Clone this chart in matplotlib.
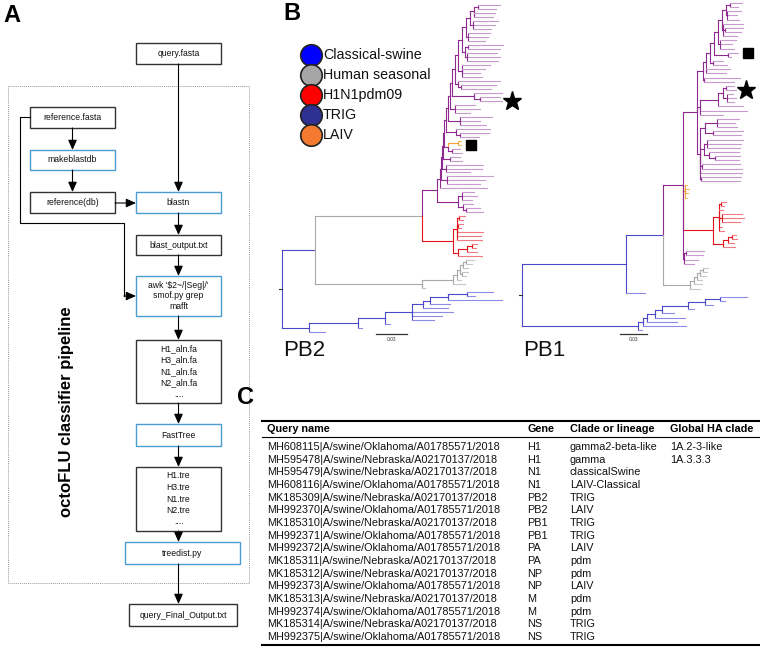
import matplotlib
matplotlib.use("Agg")
import matplotlib.pyplot as plt

plt.rcParams['font.family'] = ['Liberation Sans', 'DejaVu Sans']

# ---------------- data ----------------
legend_labels = ["Classical-swine", "Human seasonal", "H1N1pdm09", "TRIG", "LAIV"]
legend_colors = ["#0000FF", "#A6A6A6", "#FF0000", "#2E3192", "#F47A30"]

# trees: branch lengths in tree units (scale bar = 0.03 subs/site)
pb2_purple_top = "(:22,:18)"
pb2_purple_steps = [4, 4, 4, 4, 4, 3, 3, 2, 2, 2, 2, 1, 1, 1, 1]
pb2_purple_sides = ["(:21,:19)", "(:25,:22,:18):3", "(:22,:20,:17):2", "((:35,:32):3,(:30,:33,:31):2):3",
                    "(:28,:23,:18,:20):4", "(:42,(:35,:30):3):3", "(:28,(:20,star:22):6):22",
                    "(:20,:25,:15):5", "(:32,:20,:26):12", "(:34,(:29,:19):4):10",
                    "((:3,sq:3)o:10,(:8,:10):4):4", "(:10,:12):7", "(:37,:36,:24):4",
                    "(:46,:38,:33):6", ":47"]
pb2_small = "((:12,:15,:10):4,(:10,(:14,:17):3):5)"
pb2_red = "(((:6,:4):2,(:5,:3):1,:26,:24,:25):4,(((:5,:4):5,:10):9,:24):5)r:31"
pb2_gray = "(((((:8,:6):3,:5):3,(:6,:4):2):3,:4):4,:12)"
pb2_blue_top = "(:26,:8)"
pb2_blue_steps = [19, 18, 7, 11, 27, 27, 49]
pb2_blue_sides = [":54", ":20", ":25", ":41,:30,:22", ":5", ":4", ":16"]
pb2_scale = 31

pb1_purple_top = "(:12,:8)"
pb1_purple_steps = [4, 4, 4, 4, 4, 4, 3]
pb1_purple_sides = ["(:14,:10,:12):1", "(:20,(:18,:16):2,:14):1", "(:16,:12,:14):2", "(sq:10,:3):14",
                    "(:10,:14):3", "(:24,:20)", "(:36,:30):1"]
pb1_mid = "((((:8,star:10):3,(:6,:9,:7):4):5,:25):18,:47,:23)"
pb1_low = ("(((:22,:18,:20):12,(:30,:28):8):5,((:36,:34,:33):3,(:30,(:25,:24):6):5):4,"
           "(:38,:40):2,:42,(:40,:39):1)")
pb1_orange = "(:2,:4,:3,:2)o:2"
pb1_red = "(((:5,:3):2,:4,(:20,:22,:18):3,:3,:5):6,(((:4,:5):4,:6):5,:12):10)r:30"
pb1_small = "((:18,:17):2,:14,:10)p:1"
pb1_gray = "(((((:5,:4):3,:6):3,:5):3,:8):4,:10)g:27"
pb1_blue_top = "(:27,:5)"
pb1_blue_steps = [15, 17, 26, 7, 8, 4, 5]
pb1_blue_sides = [":8", ":6", ":12", ":30", ":30", ":43", ":4"]
pb1_scale = 27

query_names = ["MH608115|A/swine/Oklahoma/A01785571/2018", "MH595478|A/swine/Nebraska/A02170137/2018",
               "MH595479|A/swine/Nebraska/A02170137/2018", "MH608116|A/swine/Oklahoma/A01785571/2018",
               "MK185309|A/swine/Nebraska/A02170137/2018", "MH992370|A/swine/Oklahoma/A01785571/2018",
               "MK185310|A/swine/Nebraska/A02170137/2018", "MH992371|A/swine/Oklahoma/A01785571/2018",
               "MH992372|A/swine/Oklahoma/A01785571/2018", "MK185311|A/swine/Nebraska/A02170137/2018",
               "MK185312|A/swine/Nebraska/A02170137/2018", "MH992373|A/swine/Oklahoma/A01785571/2018",
               "MK185313|A/swine/Nebraska/A02170137/2018", "MH992374|A/swine/Oklahoma/A01785571/2018",
               "MK185314|A/swine/Nebraska/A02170137/2018", "MH992375|A/swine/Oklahoma/A01785571/2018"]
genes = ["H1", "H1", "N1", "N1", "PB2", "PB2", "PB1", "PB1", "PA", "PA", "NP", "NP", "M", "M", "NS", "NS"]
clades = ["gamma2-beta-like", "gamma", "classicalSwine", "LAIV-Classical", "TRIG", "LAIV", "TRIG", "TRIG",
          "LAIV", "pdm", "pdm", "LAIV", "pdm", "pdm", "TRIG", "TRIG"]
ha_clades = ["1A.2-3-like", "1A.3.3.3"] + [""] * 14
headers = ["Query name", "Gene", "Clade or lineage", "Global HA clade"]

INNER = {'b': '#4A4AC8', 'g': '#A8A8A8', 'r': '#E5141C', 'p': '#8E2A90', 'o': '#F2A33A'}
TIP = {'b': '#8C8CE6', 'g': '#C6C6C6', 'r': '#F07A80', 'p': '#C99ACF', 'o': '#F5B85E'}


def ladder(top, steps, sides):
    s = top
    for st, sd in zip(steps, sides):
        s = "(%s:%s,%s)" % (s, st, sd)
    return s


def parse(s):
    pos = [0]

    def node():
        kids = []
        if s[pos[0]] == '(':
            pos[0] += 1
            kids.append(node())
            while s[pos[0]] == ',':
                pos[0] += 1
                kids.append(node())
            pos[0] += 1
        st = pos[0]
        while pos[0] < len(s) and s[pos[0]] not in ':,()':
            pos[0] += 1
        lab = s[st:pos[0]]
        ln = 0.0
        if pos[0] < len(s) and s[pos[0]] == ':':
            pos[0] += 1
            st = pos[0]
            while pos[0] < len(s) and s[pos[0]] not in ',()':
                pos[0] += 1
            ln = float(s[st:pos[0]])
        return {'kids': kids, 'lab': lab, 'len': ln}
    return node()


def layout(nd, x0, col, leaves):
    nd['x'] = x0 + nd['len']
    if nd['lab'] in INNER:
        col = nd['lab']
    nd['c'] = col
    if nd['kids']:
        for k in nd['kids']:
            layout(k, nd['x'], col, leaves)
        nd['y'] = (nd['kids'][0]['y'] + nd['kids'][-1]['y']) / 2
    else:
        nd['y'] = len(leaves)
        leaves.append(nd)


def draw(ax, nd):
    for k in nd['kids']:
        ci = INNER[k['c']]
        ct = TIP[k['c']] if not k['kids'] else ci
        ax.plot([nd['x'], nd['x']], [nd['y'], k['y']], color=ci, lw=0.8, clip_on=False)
        ax.plot([nd['x'], k['x']], [k['y'], k['y']], color=ct, lw=0.8, clip_on=False)
        if k['lab'] == 'star':
            ax.plot(k['x'] + 10, k['y'], marker='*', ms=14, color='black', clip_on=False)
        if k['lab'] == 'sq':
            ax.plot(k['x'] + 10, k['y'], marker='s', ms=7.5, color='black', clip_on=False)
        draw(ax, k)


pb2_newick = "((((%s:3,%s:21)p:15,%s)g:107,(%s:31,:3)g:107)b:33,%sb:27)" % (
    ladder(pb2_purple_top, pb2_purple_steps, pb2_purple_sides), pb2_small, pb2_red,
    pb2_gray, ladder(pb2_blue_top, pb2_blue_steps, pb2_blue_sides))
pb1_newick = "(((((%s:6,%s:3,%s:3)p:14,%s,%s,%s)p:20,%s)b:37,:19)b:104,%sb:116)" % (
    ladder(pb1_purple_top, pb1_purple_steps, pb1_purple_sides), pb1_mid, pb1_low,
    pb1_orange, pb1_red, pb1_small, pb1_gray,
    ladder(pb1_blue_top, pb1_blue_steps, pb1_blue_sides))

W, H = 760, 647
fig = plt.figure(figsize=(7.6, 6.47), dpi=100)
ax = fig.add_axes([0, 0, 1, 1])
ax.set_xlim(0, W)
ax.set_ylim(H, 0)
ax.axis('off')

# ---------------- panel A: pipeline ----------------
BLUE_EDGE = '#4C9DD0'


def box(x0, x1, y0, y1, lines, blue=False, dy=11.5):
    ax.add_patch(plt.Rectangle((x0, y0), x1 - x0, y1 - y0, fill=False,
                               ec=BLUE_EDGE if blue else '#333333', lw=1.0))
    cy = (y0 + y1) / 2
    n = len(lines)
    for i, t in enumerate(lines):
        ax.text((x0 + x1) / 2, cy + (i - (n - 1) / 2) * dy, t, ha='center', va='center',
                fontsize=6.2, color='#111111')


def arrow(p0, p1):
    ax.annotate('', xy=p1, xytext=p0,
                arrowprops=dict(arrowstyle='-|>,head_length=0.5,head_width=0.22', color='black',
                                lw=0.8, shrinkA=0, shrinkB=0, mutation_scale=12))


ax.add_patch(plt.Rectangle((8, 86), 241, 497, fill=False, ec='#9A9A9A', lw=0.7, ls=(0, (1, 1))))
box(136, 221, 43, 64, ["query.fasta"])
box(30, 115, 107, 128, ["reference.fasta"])
box(30, 115, 150, 170, ["makeblastdb"], blue=True)
box(30, 115, 192, 213, ["reference(db)"])
box(136, 221, 192, 213, ["blastn"], blue=True)
box(136, 221, 235, 255, ["blast_output.txt"])
box(136, 221, 276, 316, ["awk '$2~/|Seg|/'", "smof.py grep", "mafft"], blue=True, dy=10.5)
box(136, 221, 340, 403, ["H1_aln.fa", "H3_aln.fa", "N1_aln.fa", "N2_aln.fa", "...."])
box(136, 221, 424, 446, ["FastTree"], blue=True)
box(136, 221, 467, 531, ["H1.tre", "H3.tre", "N1.tre", "N2.tre", "...."])
box(125, 240, 542, 564, ["treedist.py"], blue=True)
box(129, 237, 604, 626, ["query_Final_Output.txt"])

arrow((178.5, 64), (178.5, 192))
arrow((72.5, 128), (72.5, 150))
arrow((72.5, 170), (72.5, 192))
arrow((115, 203), (136, 203))
arrow((178.5, 213), (178.5, 235))
arrow((178.5, 255), (178.5, 276))
arrow((178.5, 316), (178.5, 340))
arrow((178.5, 403), (178.5, 424))
arrow((178.5, 446), (178.5, 467))
arrow((178.5, 531), (178.5, 542))
arrow((178.5, 564), (178.5, 604))
ax.plot([30, 20, 20, 124, 124], [117, 117, 223, 223, 296], color='black', lw=0.8)
arrow((124, 296), (136, 296))

ax.text(66, 412, "octoFLU classifier pipeline", rotation=90, ha='center', va='center',
        fontsize=12, fontweight='bold')

# panel letters
ax.text(12, 15, "A", ha='center', va='center', fontsize=17, fontweight='bold')
ax.text(292, 14, "B", ha='center', va='center', fontsize=17, fontweight='bold')
ax.text(246, 398, "C", ha='center', va='center', fontsize=17, fontweight='bold')

# ---------------- panel B: legend + trees ----------------
for i, (lab, col) in enumerate(zip(legend_labels, legend_colors)):
    y = 55 + 20 * i
    ax.scatter(311, y, s=240, color=col, edgecolors='#222222', linewidths=1.2, zorder=3)
    ax.text(323, y, lab, ha='left', va='center', fontsize=10.3, color='#111111')


def tree_panel(newick, root_px, top_px, bot_px, scale, bar_x, bar_frac, name):
    root = parse(newick)
    leaves = []
    layout(root, 0.0, 'b', leaves)
    t = fig.add_axes([root_px / W, 1 - bot_px / H, 230 / W, (bot_px - top_px) / H])
    t.set_xlim(0, 230)
    t.set_ylim(len(leaves) - 1, 0)
    t.axis('off')
    draw(t, root)
    t.plot([-3, 0], [root['y'], root['y']], color='#333333', lw=0.8, clip_on=False)
    tr = t.get_xaxis_transform()
    t.plot([bar_x, bar_x + scale], [bar_frac, bar_frac], transform=tr, color='#333333', lw=0.9,
           clip_on=False)
    t.text(bar_x + scale / 2, bar_frac - 0.017, "0.03", transform=tr, ha='center', va='center',
           fontsize=3.5, color='#333333')
    ax.text(root_px + 1, 350, name, ha='left', va='center', fontsize=16, color='#111111')


tree_panel(pb2_newick, 282, 5, 332, pb2_scale, 94, -0.007, "PB2")
tree_panel(pb1_newick, 522, 3, 330, pb1_scale, 98, -0.012, "PB1")

# ---------------- panel C: table ----------------
col_x = [267, 527, 570, 670]
fs = 7.8
ax.plot([262, 759], [421, 421], color='black', lw=1.5)
ax.plot([262, 759], [437, 437], color='black', lw=0.8)
ax.plot([262, 759], [644.5, 644.5], color='black', lw=1.5)
for cx, hd in zip(col_x, headers):
    ax.text(cx, 429.5, hd, ha='left', va='center', fontsize=fs, fontweight='bold')
for i in range(len(query_names)):
    y = 447 + 12.67 * i
    ax.text(col_x[0], y, query_names[i], ha='left', va='center', fontsize=fs, color='#111111')
    ax.text(col_x[1], y, genes[i], ha='left', va='center', fontsize=fs, color='#111111')
    ax.text(col_x[2], y, clades[i], ha='left', va='center', fontsize=fs, color='#111111')
    ax.text(col_x[3], y, ha_clades[i], ha='left', va='center', fontsize=fs, color='#111111')

fig.savefig("out.png", dpi=100)
